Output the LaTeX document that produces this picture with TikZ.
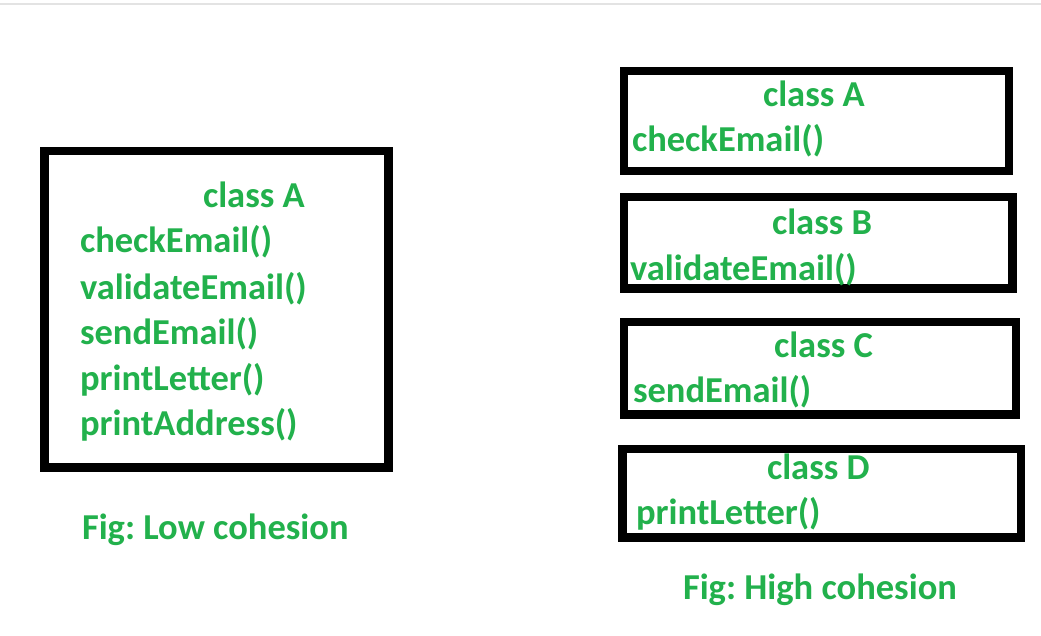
\documentclass[tikz,border=0pt]{standalone}
\usepackage{fontspec}
\setmainfont{Carlito}
\frenchspacing
\definecolor{txtgreen}{HTML}{22B14C}
\definecolor{topgray}{HTML}{E3E3E3}
\begin{document}
\begin{tikzpicture}[x=1pt,y=-1pt,
  box/.style={draw=black, line width=8.5pt, rectangle, inner sep=0pt, outer sep=0pt},
  lbl/.style={anchor=base west, inner sep=0pt, outer sep=0pt, text=txtgreen,
    font=\fontsize{36.5}{42}\selectfont\bfseries}]
\useasboundingbox[fill=white] (0,0) rectangle (1041,636);
\coordinate (tl) at (0,4);
\coordinate (tr) at (1041,4);
\draw[topgray, line width=2pt] (tl) -- (tr);
% left box
\node[box, minimum width=344pt, minimum height=316.5pt] (big) at (216.5,309.25) {};
\node[lbl] (bA) at (203,208) {class A};
\node[lbl] (b1) at (80,253) {checkEmail()};
\node[lbl] (b2) at (80,299) {validateEmail()};
\node[lbl] (b3) at (80,344) {sendEmail()};
\node[lbl] (b4) at (80,390) {printLetter()};
\node[lbl] (b5) at (80,435) {printAddress()};
\node[lbl] (capL) at (82,539) {Fig: Low cohesion};
% right boxes
\node[box, minimum width=385pt, minimum height=100pt] (rA) at (816.5,121) {};
\node[lbl] (rAt) at (763,107) {class A};
\node[lbl] (rAm) at (632,152) {checkEmail()};
\node[box, minimum width=388.5pt, minimum height=91.5pt] (rB) at (818.25,242.75) {};
\node[lbl] (rBt) at (772,235) {class B};
\node[lbl] (rBm) at (630,280) {validateEmail()};
\node[box, minimum width=392pt, minimum height=92.5pt] (rC) at (820,368.25) {};
\node[lbl] (rCt) at (774,357) {class C};
\node[lbl] (rCm) at (633,402) {sendEmail()};
\node[box, minimum width=398.5pt, minimum height=88.5pt] (rD) at (821.75,493.25) {};
\node[lbl] (rDt) at (767,479) {class D};
\node[lbl] (rDm) at (636,524) {printLetter()};
\node[lbl] (capR) at (683,599) {Fig: High cohesion};
\end{tikzpicture}
\end{document}
